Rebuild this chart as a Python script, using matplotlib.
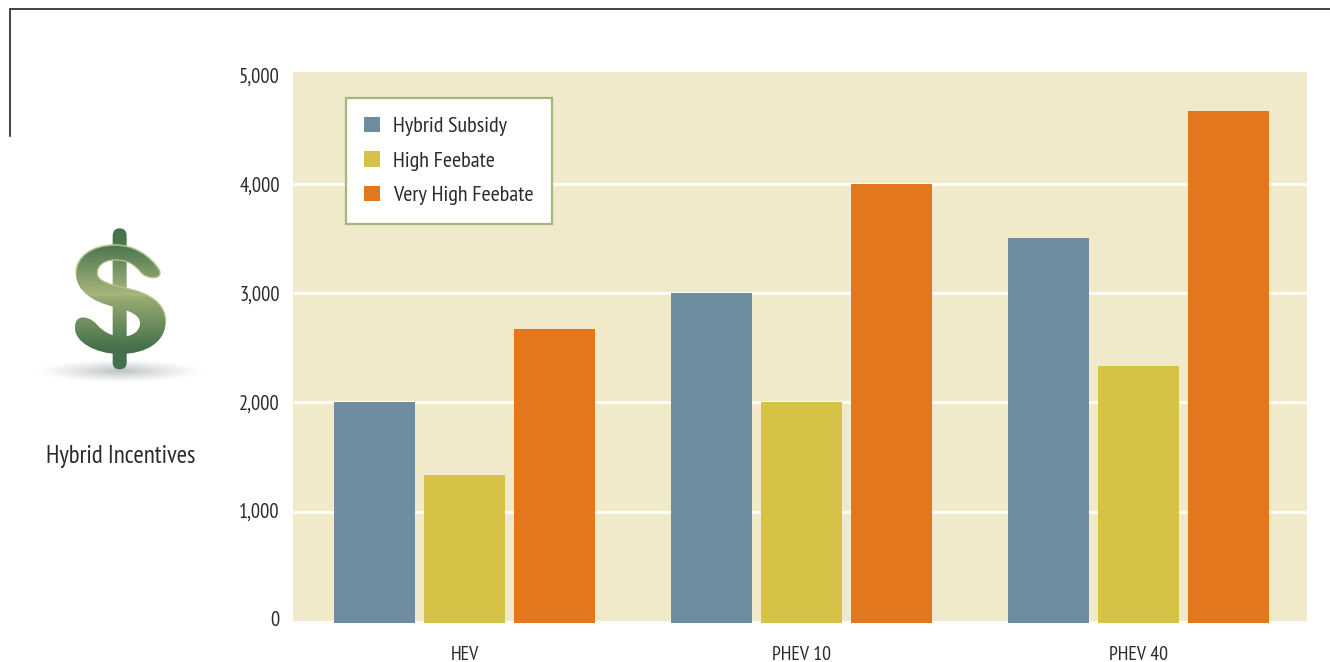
import numpy as np
import matplotlib
matplotlib.use('Agg')
import matplotlib.pyplot as plt
from matplotlib.path import Path
from matplotlib.patches import PathPatch
from matplotlib.colors import LinearSegmentedColormap
from matplotlib.transforms import ScaledTranslation
import logging
logging.getLogger('matplotlib.font_manager').setLevel(logging.ERROR)

categories = ['HEV', 'PHEV 10', 'PHEV 40']
hybrid_subsidy = [2000, 3000, 3500]
high_feebate = [1333, 2000, 2333]
very_high_feebate = [2667, 4000, 4667]
series_names = ['Hybrid Subsidy', 'High Feebate', 'Very High Feebate']
y_ticks = [0, 1000, 2000, 3000, 4000, 5000]
y_labels = ['0', '1,000', '2,000', '3,000', '4,000', '5,000']
grid_values = [1000, 2000, 3000, 4000]

colors = ['#6F8DA0', '#D6C246', '#E2771D']
panel = '#F0E9CA'
text_col = '#2b2b2b'
W, H = 1330, 662

plt.rcParams['font.family'] = ['PT Sans Narrow', 'Open Sans Condensed', 'Liberation Sans Narrow',
                               'Liberation Sans', 'DejaVu Sans']

fig = plt.figure(figsize=(W / 100, H / 100), dpi=100, facecolor='white')

# main chart, placed in pixels
ax = fig.add_axes([293 / W, 1 - 621 / H, (1307 - 293) / W, (621 - 72) / H])
ax.set_facecolor(panel)
ax.set_xlim(-0.509, 2.5)
ax.set_ylim(8.5, 5022)
for s in ax.spines.values():
    s.set_visible(False)

ax.hlines(grid_values, -0.509, 2.5, color='white', lw=1.9, zorder=1)

x = np.arange(len(categories))
step = 90 / 338
width = 81 / 338
overhang = 14  # bars run a little past the panel bottom
for i, vals in enumerate([hybrid_subsidy, high_feebate, very_high_feebate]):
    v = np.array(vals)
    ax.bar(x + (i - 1) * step, v + overhang, width, bottom=-overhang, color=colors[i],
           zorder=2, clip_on=False, label=series_names[i])

ax.set_xticks(x, categories)
ax.set_yticks(y_ticks, y_labels)
ax.tick_params(axis='both', length=0)
ax.tick_params(axis='y', pad=9.5, labelsize=14.8, labelcolor=text_col)
ax.tick_params(axis='x', pad=18, labelsize=14.2, labelcolor=text_col)

# the printed labels sit slightly off the gridlines
for lab, dy in zip(ax.get_yticklabels(), [2, 1, 0, 0, -1, -1]):
    lab.set_transform(lab.get_transform() + ScaledTranslation(0, dy / 100, fig.dpi_scale_trans))

leg = ax.legend(loc='upper left', bbox_to_anchor=(345.5 / W, 1 - 98 / H), bbox_transform=fig.transFigure,
                fontsize=15.9, frameon=True, fancybox=False, framealpha=1, edgecolor='#A3B77E',
                facecolor='white', handlelength=0.68, handleheight=0.68, handletextpad=0.6,
                labelspacing=0.68, borderpad=0.86, borderaxespad=0, labelcolor=text_col)
leg.get_frame().set_linewidth(1.6)
leg.set_zorder(5)

# overlay in image pixels for frame line, icon and caption
ov = fig.add_axes([0, 0, 1, 1], zorder=-1)
ov.axis('off')
ov.plot([10, 10, W], [136, 9, 9], color='#222222', lw=1.2, solid_joinstyle='miter')
ov.text(120.5, 457, 'Hybrid Incentives', ha='center', va='center', fontsize=17.9, color=text_col)

# shadow under the dollar sign
gx, gy = np.meshgrid(np.linspace(-1, 1, 200), np.linspace(-1, 1, 40))
shade = np.clip(1 - np.sqrt(gx ** 2 + gy ** 2), 0, 1) ** 1.2
shadow_cmap = LinearSegmentedColormap.from_list('sh', ['#ffffff', '#c0c4c6'])
ov.imshow(shade, extent=(36, 204, 383, 359), cmap=shadow_cmap, aspect='auto', zorder=1)


def zp(pts):
    return [(20 + a / 3, 210 + b / 3) for a, b in pts]


s_pts = [(418, 180),
         (390, 135), (340, 105), (285, 105),
         (215, 105), (168, 140), (168, 190),
         (168, 245), (220, 275), (280, 290),
         (330, 302), (360, 315), (360, 340),
         (360, 362), (340, 378), (310, 380),
         (275, 380), (250, 365), (232, 345),
         (215, 325), (195, 320), (182, 323),
         (165, 328), (165, 345), (165, 355),
         (165, 395), (225, 432), (300, 432),
         (380, 432), (437, 395), (437, 335),
         (437, 280), (390, 250), (320, 235),
         (275, 225), (232, 215), (232, 190),
         (232, 165), (255, 150), (285, 150),
         (325, 150), (345, 165), (365, 190),
         (385, 208), (430, 210), (418, 180)]
s_codes = [Path.MOVETO] + [Path.CURVE4] * (len(s_pts) - 1)
s_path = Path(zp(s_pts), s_codes)

bar_pts = zp([(278, 78), (278, 55), (299, 55), (320, 55), (320, 78), (320, 458), (320, 478), (299, 478),
              (278, 478), (278, 458), (278, 78)])
bar_codes = [Path.MOVETO, Path.CURVE3, Path.CURVE3, Path.CURVE3, Path.CURVE3, Path.LINETO,
             Path.CURVE3, Path.CURVE3, Path.CURVE3, Path.CURVE3, Path.LINETO]
bar_path = Path(bar_pts, bar_codes)

grad_cmap = LinearSegmentedColormap.from_list('dollar', [
    (0.00, '#44704C'), (0.14, '#4F7A52'), (0.47, '#A9B67C'), (0.49, '#98AB72'),
    (0.85, '#44704C'), (1.00, '#44704C')])
grad = np.linspace(0, 1, 256).reshape(-1, 1)
for path in [s_path, bar_path]:
    im = ov.imshow(grad, extent=(60, 180, 370, 228), cmap=grad_cmap, aspect='auto', zorder=3)
    patch = PathPatch(path, transform=ov.transData, fc='none', ec='none')
    ov.add_patch(patch)
    im.set_clip_path(patch)

# light rim on the upper part of the S
rim = PathPatch(Path(zp(s_pts[:7]), s_codes[:7]), fc='none', ec='#B7C58B', lw=1.1, zorder=4)
ov.add_patch(rim)
rim2 = PathPatch(Path(zp(s_pts[-16:]), [Path.MOVETO] + [Path.CURVE4] * 15), fc='none', ec='#B7C58B', lw=0.9, zorder=4)
ov.add_patch(rim2)

ov.set_xlim(0, W)
ov.set_ylim(H, 0)

fig.savefig('out.png', dpi=100)
